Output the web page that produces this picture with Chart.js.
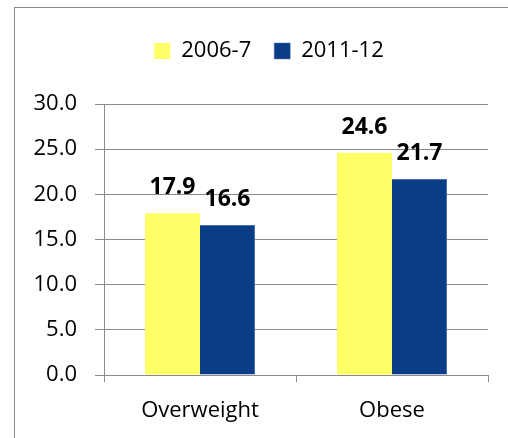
<!DOCTYPE html>
<html>
<head>
<meta charset="utf-8">
<script src="https://cdn.jsdelivr.net/npm/chart.js@4"></script>
<style>
  html, body { margin: 0; padding: 0; background: #fff; }
  .wrap { position: relative; width: 508px; height: 438px; }
  .frame { position: absolute; left: 14px; top: 7px; width: 494px; height: 431px;
           border-left: 1px solid #8a8a8a; border-top: 1px solid #8a8a8a; box-sizing: border-box; }
  canvas { position: absolute; left: 0; top: 0; }
</style>
</head>
<body>
<div class="wrap">
  <div class="frame"></div>
  <canvas id="barChart" width="508" height="438"></canvas>
</div>
<script>
const categories = ["Overweight", "Obese"];
const seriesNames = ["2006-7", "2011-12"];
const values2006 = [17.9, 24.6];
const values2011 = [16.6, 21.7];
const yTicks = [0, 5, 10, 15, 20, 25, 30];

const FONT = "'Open Sans', sans-serif";

// подписи значений над столбиками
const valueLabels = {
  id: 'valueLabels',
  afterDatasetsDraw(chart) {
    const ctx = chart.ctx;
    ctx.save();
    ctx.font = "bold 23px " + FONT;
    ctx.fillStyle = "#000";
    ctx.textAlign = "center";
    ctx.textBaseline = "alphabetic";
    chart.data.datasets.forEach((ds, i) => {
      chart.getDatasetMeta(i).data.forEach((bar, j) => {
        ctx.fillText(ds.data[j].toFixed(1), bar.x, bar.y - 19);
      });
    });
    ctx.restore();
  }
};

// отступ под легендой и сдвиг легенды вправо
const legendGap = {
  id: 'legendGap',
  beforeInit(chart) {
    const fit = chart.legend.fit;
    chart.legend.fit = function () {
      fit.bind(this)();
      this.height += 32;
    };
  },
  afterLayout(chart) {
    chart.legend.left += 18;
    chart.legend.right += 18;
  }
};

const grid = "#8a8a8a";

new Chart(document.getElementById("barChart").getContext("2d"), {
  type: "bar",
  data: {
    labels: categories,
    datasets: [
      {
        label: seriesNames[0],
        data: values2006,
        backgroundColor: "#ffff66",
        categoryPercentage: 0.573,
        barPercentage: 1.0
      },
      {
        label: seriesNames[1],
        data: values2011,
        backgroundColor: "#0b3c87",
        borderColor: "#4a72b0",
        borderWidth: { left: 0, right: 1, top: 1, bottom: 0 },
        categoryPercentage: 0.573,
        barPercentage: 1.0
      }
    ]
  },
  plugins: [valueLabels, legendGap],
  options: {
    responsive: false,
    animation: false,
    layout: { padding: { left: 14, right: 20, top: 17, bottom: 0 } },
    plugins: {
      tooltip: { enabled: false },
      legend: {
        display: true,
        position: "top",
        labels: {
          boxWidth: 16,
          boxHeight: 16,
          padding: 23,
          color: "#000",
          font: { family: FONT, size: 22 }
        }
      }
    },
    scales: {
      x: {
        afterFit(scale) { scale.height = 63; },
        grid: { offset: true, drawOnChartArea: false, tickLength: 7, color: grid, lineWidth: 1 },
        border: { display: true, color: grid, width: 1 },
        ticks: { color: "#000", padding: 16, font: { family: FONT, size: 22 } }
      },
      y: {
        min: 0,
        max: 30,
        afterFit(scale) { scale.width = 90; },
        afterBuildTicks(scale) { scale.ticks = yTicks.map(v => ({ value: v })); },
        grid: { color: grid, lineWidth: 1, tickLength: 9 },
        border: { display: true, color: grid, width: 1 },
        ticks: {
          color: "#000",
          padding: 18,
          font: { family: FONT, size: 22 },
          callback: v => Number(v).toFixed(1)
        }
      }
    }
  }
});
</script>
</body>
</html>
